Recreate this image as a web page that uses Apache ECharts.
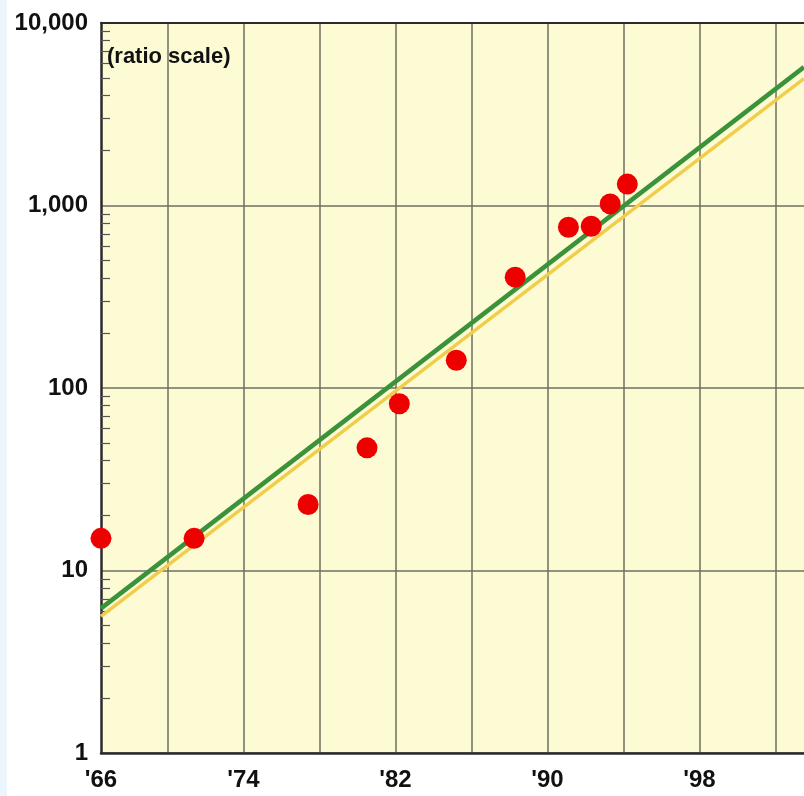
<!DOCTYPE html>
<html>
<head>
<meta charset="utf-8">
<script src="https://cdn.jsdelivr.net/npm/echarts@6/dist/echarts.min.js"></script>
<style>
  html, body { margin: 0; padding: 0; background: #ffffff; }
  #chart { width: 804px; height: 796px; }
</style>
</head>
<body>
<div id="chart"></div>
<script>
// Observed points (year, count) plotted at mid-year positions
const pointYears  = [1966.5, 1971.4, 1977.4, 1980.5, 1982.2, 1985.2, 1988.3, 1991.1, 1992.3, 1993.3, 1994.2];
const pointValues = [15, 15, 23, 47, 82, 142, 405, 760, 770, 1020, 1310];

// Two exponential trend lines (straight on the ratio scale)
const trendYears   = [1966.5, 2003.5];
const greenTrend   = [6.2, 5730];
const yellowTrend  = [5.6, 4960];

// Axis ticks and labels
const xMin = 1966.5, xMax = 2003.5;
const xGridYears  = [1970, 1974, 1978, 1982, 1986, 1990, 1994, 1998, 2002];
const xLabelYears = [1966.5, 1974, 1982, 1990, 1998];
const yMin = 1, yMax = 10000;
const yMinorTicks = [2, 3, 4, 5, 6, 7, 8, 9,
                     20, 30, 40, 50, 60, 70, 80, 90,
                     200, 300, 400, 500, 600, 700, 800, 900,
                     2000, 3000, 4000, 5000, 6000, 7000, 8000, 9000];

const FONT = '"Liberation Sans", Arial, Helvetica, sans-serif';
const GRID_COLOR = '#6f6f62';
const AXIS_COLOR = '#2b2b2b';

const chart = echarts.init(document.getElementById('chart'), null, { renderer: 'canvas' });

function pairs(xs, ys) { return xs.map((x, i) => [x, ys[i]]); }

const option = {
  animation: false,
  backgroundColor: '#ffffff',
  graphic: [
    { type: 'rect', left: 0, top: 0, z: -10,
      shape: { width: 7, height: 796 }, style: { fill: '#ecf4fc' } },
    { type: 'text', left: 107, top: 46, z: 10,
      style: { text: '(ratio scale)', font: 'bold 22px ' + FONT, fill: '#111' } }
  ],
  grid: {
    left: 101, top: 23, right: 0, bottom: 43,
    show: true, backgroundColor: '#fdfbd4', borderWidth: 0
  },
  xAxis: [
    {
      type: 'value', min: xMin, max: xMax, position: 'bottom',
      axisLine: { show: true, onZero: false, lineStyle: { color: AXIS_COLOR, width: 2.5 } },
      axisTick: { show: false, customValues: xGridYears },
      splitLine: { show: true, lineStyle: { color: GRID_COLOR, width: 1.5 } },
      axisLabel: {
        customValues: xLabelYears,
        margin: 15,
        color: '#111',
        fontFamily: FONT, fontWeight: 'bold', fontSize: 24,
        formatter: v => "'" + String(Math.floor(v) % 100)
      }
    },
    {
      type: 'value', min: xMin, max: xMax, position: 'top',
      axisLine: { show: true, onZero: false, lineStyle: { color: AXIS_COLOR, width: 2 } },
      axisTick: { show: false }, axisLabel: { show: false }, splitLine: { show: false }
    }
  ],
  yAxis: [
    {
      type: 'log', logBase: 10, min: yMin, max: yMax, position: 'left',
      axisLine: { show: true, onZero: false, lineStyle: { color: AXIS_COLOR, width: 2.5 } },
      axisTick: { show: false },
      splitLine: { show: true, lineStyle: { color: GRID_COLOR, width: 1.5 } },
      axisLabel: {
        margin: 13, color: '#111',
        fontFamily: FONT, fontWeight: 'bold', fontSize: 24,
        formatter: v => Math.round(v).toLocaleString('en-US')
      }
    },
    {
      type: 'log', logBase: 10, min: yMin, max: yMax, position: 'left',
      axisLine: { show: false },
      axisTick: { show: true, inside: true, length: 9, customValues: yMinorTicks,
                  lineStyle: { color: '#555', width: 1.2 } },
      axisLabel: { show: false }, splitLine: { show: false }
    }
  ],
  series: [
    {
      type: 'line', xAxisIndex: 0, yAxisIndex: 0,
      data: pairs(trendYears, yellowTrend),
      symbol: 'none', clip: true, z: 3,
      lineStyle: { color: '#f1cd4c', width: 3.5 }
    },
    {
      type: 'line', xAxisIndex: 0, yAxisIndex: 0,
      data: pairs(trendYears, greenTrend),
      symbol: 'none', clip: true, z: 4,
      lineStyle: { color: '#3a933a', width: 4.5 }
    },
    {
      type: 'scatter', xAxisIndex: 0, yAxisIndex: 0,
      data: pairs(pointYears, pointValues),
      symbol: 'circle', symbolSize: 21, clip: false, z: 5,
      itemStyle: { color: '#ee0000', opacity: 1 }
    }
  ]
};

chart.setOption(option);
</script>
</body>
</html>
